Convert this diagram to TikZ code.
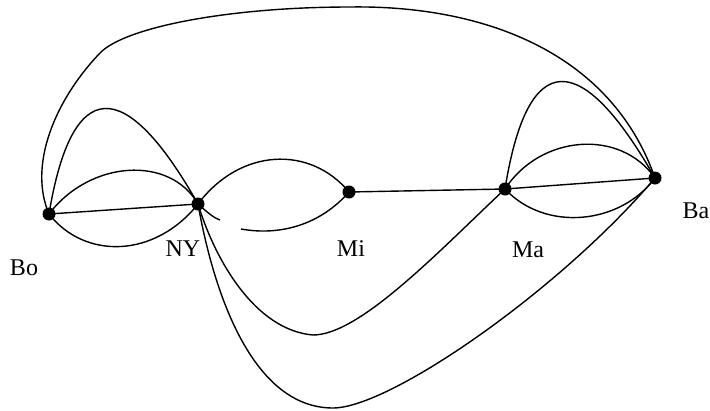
\documentclass[tikz,border=0pt]{standalone}
\usepackage{fontspec}
\setmainfont{Liberation Serif}
\begin{document}
\begin{tikzpicture}[x=1pt, y=-1pt, line width=1.4pt,
    city/.style={circle, fill=black, inner sep=0pt, minimum size=13pt},
    cityname/.style={inner sep=0pt, font=\fontsize{24}{28}\selectfont}]
    \useasboundingbox (0,0) rectangle (710,410);

    % cities
    \node[city] (bo) at (49,214) {};
    \node[city] (ny) at (198,204) {};
    \node[city] (mi) at (349,192) {};
    \node[city] (ma) at (505,189) {};
    \node[city] (ba) at (655,178) {};

    \node[cityname] (lbo) at (24,268) {Bo};
    \node[cityname] (lny) at (183,249) {NY};
    \node[cityname] (lmi) at (351,249) {Mi};
    \node[cityname] (lma) at (528,250) {Ma};
    \node[cityname] (lba) at (696,211) {Ba};

    % Bo -- NY
    \draw (bo.center) -- (ny.center);
    \draw (bo.center) .. controls (90,160) and (170,155) .. (ny.center);
    \draw (bo.center) .. controls (85,260) and (155,258) .. (ny.center);
    \draw (bo.center) .. controls (72,75) and (125,75) .. (ny.center);

    % Bo -- Ba over the top
    \draw (bo.center) .. controls (28,165) and (55,100) .. (100,53)
        .. controls (125,27) and (230,7) .. (350,7)
        .. controls (480,5) and (610,50) .. (ba.center);

    % NY -- Mi
    \coordinate (gapa) at (220,220);
    \coordinate (gapb) at (241,229);
    \draw (ny.center) .. controls (240,148) and (310,145) .. (mi.center);
    \draw (ny.center) .. controls (208,213) and (214,218) .. (gapa);
    \draw (gapb) .. controls (280,236) and (320,225) .. (mi.center);

    % Mi -- Ma
    \draw (mi.center) -- (ma.center);

    % Ma -- Ba
    \draw (ma.center) -- (ba.center);
    \draw (ma.center) .. controls (540,135) and (620,128) .. (ba.center);
    \draw (ma.center) .. controls (545,232) and (620,225) .. (ba.center);
    \draw (ma.center) .. controls (528,45) and (582,50) .. (ba.center);

    % NY down and round
    \draw (ny.center) .. controls (215,260) and (255,330) .. (313,335)
        .. controls (360,335) and (440,250) .. (ma.center);
    \draw (ny.center) .. controls (215,300) and (255,408) .. (333,408)
        .. controls (390,408) and (560,290) .. (ba.center);
\end{tikzpicture}
\end{document}
